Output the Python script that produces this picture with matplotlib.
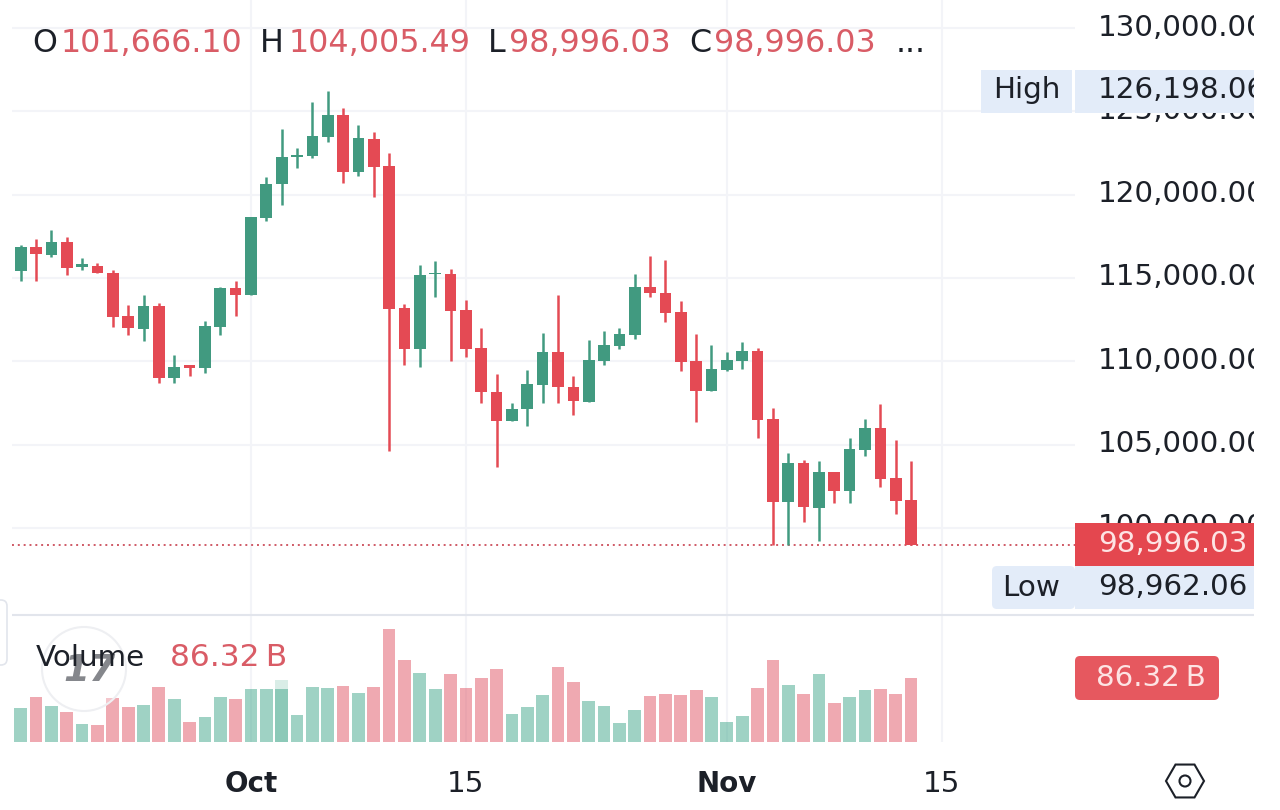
import numpy as np
import matplotlib
matplotlib.use("Agg")
import matplotlib.pyplot as plt
from matplotlib.patches import Rectangle, FancyBboxPatch, Circle, RegularPolygon
from matplotlib.transforms import Bbox, TransformedBbox, ScaledTranslation

plt.rcParams["font.family"] = ["DejaVu Sans"]

# Daily candles, one entry per session starting mid-September
opens = [115400, 116860, 116380, 117140, 115680, 115740, 115320, 112740, 111920, 113300,
         109000, 109760, 109620, 112060, 114420, 114000, 118620, 120620, 122260, 122340,
         123460, 124780, 121380, 123320, 121720, 113220, 110740, 115220, 115240, 113080,
         110780, 108140, 106420, 107120, 108580, 110580, 108480, 107580, 110040, 110940,
         111580, 114480, 114120, 112940, 110020, 108240, 109480, 110040, 110640, 106520,
         101540, 103880, 101220, 103340, 102240, 104680, 105980, 102980, 101666.10]
highs = [116980, 117340, 117880, 117480, 116220, 115880, 115460, 113360, 113980, 113500,
         110380, 109760, 112400, 114480, 114820, 118660, 121080, 123940, 122820, 125560,
         126198.06, 125200, 124160, 123740, 122480, 113420, 115800, 116000, 115520, 113660,
         111980, 109240, 107520, 109460, 111680, 113980, 109120, 111280, 111840, 111980,
         115240, 116300, 116080, 113640, 111620, 110980, 110560, 111140, 110780, 107220,
         104520, 104080, 104040, 103340, 105420, 106520, 107440, 105280, 104005.49]
lows = [114840, 114840, 116240, 115200, 115460, 115280, 112060, 111560, 111220, 108720,
        108720, 109140, 109280, 111560, 112740, 114000, 118400, 119360, 121580, 122200,
        123180, 120680, 121100, 119860, 104620, 109760, 109680, 113880, 110040, 110240,
        107520, 103640, 106420, 106140, 107480, 107520, 106780, 107540, 109760, 110740,
        111320, 113880, 112340, 109440, 106340, 108240, 109440, 109560, 105380, 98962.06,
        98980, 100380, 99240, 101480, 101480, 104340, 102440, 100860, 98996.03]
closes = [116860, 116460, 117140, 115620, 115820, 115280, 112680, 111980, 113300, 109000,
          109680, 109620, 112120, 114420, 114000, 118660, 120660, 122280, 122400, 123520,
          124780, 121380, 123400, 121660, 113160, 110740, 115180, 115300, 113020, 110740,
          108160, 106420, 107160, 108620, 110580, 108460, 107600, 110080, 110980, 111620,
          114480, 114080, 112920, 109980, 108240, 109520, 110080, 110640, 106480, 101540,
          103880, 101280, 103340, 102240, 104720, 105980, 102940, 101640, 98996.03]
volumes = [46.3, 60.1, 49.0, 40.1, 24.0, 22.7, 58.7, 47.6, 49.4, 74.3,
           58.3, 27.6, 33.4, 60.1, 58.3, 70.8, 70.8, 70.8, 36.5, 73.4,
           72.5, 75.2, 66.3, 73.4, 151.3, 109.5, 92.1, 70.8, 91.2, 72.5,
           86.3, 98.3, 38.3, 47.6, 63.2, 100.1, 80.1, 55.2, 49.0, 25.8,
           43.2, 61.4, 64.5, 63.2, 69.4, 60.1, 27.1, 35.2, 72.5, 109.5,
           77.0, 64.5, 91.2, 52.1, 60.1, 69.4, 70.8, 64.5, 86.32]
# Session whose volume bar carries a paler cap
pale_cap_session = 17
pale_cap_volume = 83.2

price_ticks = [100000, 105000, 110000, 115000, 120000, 125000, 130000]
date_ticks = [15, 29, 46, 60]
date_labels = ["Oct", "15", "Nov", "15"]
bold_dates = {"Oct", "Nov"}

GREEN = "#419a80"
RED = "#e44a54"
GREEN_VOL = "#41a78b"
RED_VOL = "#e15565"
GRID = "#f3f4f8"
SEPARATOR = "#e2e5ec"
TEXT = "#1c2028"
HEADER_RED = "#d95c66"
TAG_BLUE = "#e3ecf9"
LABEL_SIZE = 21.2

W, H = 1280, 810
fig = plt.figure(figsize=(W / 100, H / 100), dpi=100, facecolor="white")


def px_axes(x0, y0, x1, y1, **kw):
    return fig.add_axes([x0 / W, 1 - y1 / H, (x1 - x0) / W, (y1 - y0) / H], **kw)


x = np.arange(len(opens))
o, h, l, c = map(np.array, (opens, highs, lows, closes))
up = c >= o
candle_colors = np.where(up, GREEN, RED)
xlim = (-0.567, 68.68)

# Price pane
ax = px_axes(12, 0, 1075, 615)
ax.set_xlim(*xlim)
ax.set_ylim(94780, 131680)
for s in ax.spines.values():
    s.set_visible(False)
ax.set_axisbelow(True)
ax.grid(True, color=GRID, lw=1.5)
ax.set_xticks(date_ticks)
ax.tick_params(axis="x", length=0, labelbottom=False)
ax.yaxis.tick_right()
ax.set_yticks(price_ticks)
ax.set_yticklabels([f"{v:,.2f}" for v in price_ticks])
ax.tick_params(axis="y", length=0, pad=16.5, labelsize=LABEL_SIZE, labelcolor=TEXT)
right_clip = TransformedBbox(Bbox([[0, 0], [12.54, 8.1]]), fig.dpi_scale_trans)
# Price labels sit slightly above their gridlines and are cut off at the pane edge
label_lift = ScaledTranslation(0, 3.5 / 100, fig.dpi_scale_trans)
for lbl in ax.get_yticklabels():
    lbl.set_transform(lbl.get_transform() + label_lift)
    lbl.set_clip_box(right_clip)
    lbl.set_clip_on(True)

ax.axhline(closes[-1], color="#cf5a66", lw=1.4, ls=(0, (1, 2)), zorder=1.5)
ax.vlines(x, l, h, colors=candle_colors, lw=1.8, zorder=2)
ax.bar(x, np.maximum(np.abs(c - o), 60), bottom=np.minimum(o, c), width=0.76,
       color=candle_colors, linewidth=0, zorder=3)

# Volume pane
vax = px_axes(12, 615, 1075, 742.3)
vax.set_xlim(*xlim)
vax.set_ylim(0, 169.8)
for s in vax.spines.values():
    s.set_visible(False)
vax.set_axisbelow(True)
vax.grid(True, axis="x", color=GRID, lw=1.5)
vax.set_yticks([])
vax.set_xticks(date_ticks)
vax.set_xticklabels(date_labels)
vax.tick_params(axis="x", length=0, pad=20, labelsize=LABEL_SIZE, labelcolor=TEXT)
for lbl in vax.get_xticklabels():
    if lbl.get_text() in bold_dates:
        lbl.set_fontweight("bold")
        lbl.set_fontsize(20)
vax.bar(x, volumes, width=0.83, linewidth=0, alpha=0.5,
        color=np.where(up, GREEN_VOL, RED_VOL), zorder=2)
vax.bar(pale_cap_session, pale_cap_volume, width=0.83, linewidth=0,
        color=GREEN_VOL, alpha=0.2, zorder=1.5)

# Overlay in pixel units for price tags, legends and the corner icons
ov = fig.add_axes([0, 0, 1, 1], zorder=5)
ov.set_xlim(0, W)
ov.set_ylim(H, 0)
ov.axis("off")
ov.patch.set_alpha(0)

ov.plot([12, 1254], [615, 615], color=SEPARATOR, lw=1.5, solid_capstyle="butt")


def text(px, py, s, color=TEXT, size=LABEL_SIZE, ha="left", **kw):
    return ov.text(px, py, s, color=color, fontsize=size, ha=ha, va="center", **kw)


def money(v):
    return f"{v:,.2f}"


# OHLC legend
for px, s, col in [(32, "O", TEXT), (61, money(opens[-1]), HEADER_RED),
                   (260, "H", TEXT), (289, money(highs[-1]), HEADER_RED),
                   (488, "L", TEXT), (509, money(lows[-1]), HEADER_RED),
                   (689, "C", TEXT), (714, money(closes[-1]), HEADER_RED),
                   (896, "...", TEXT)]:
    text(px, 43, s, col, size=22.9)

# High tag
ov.add_patch(Rectangle((981, 70), 91, 43, color=TAG_BLUE, lw=0))
ov.add_patch(Rectangle((1075, 70), 179, 43, color=TAG_BLUE, lw=0))
text(1027, 90, "High", ha="center")
t = text(1098, 90, money(max(highs)))
t.set_clip_box(right_clip)
t.set_clip_on(True)

# Last price tag
ov.add_patch(Rectangle((1075, 523), 179, 43, color="#e4474f", lw=0))
text(1248, 544, money(closes[-1]), "#fde4e4", ha="right")

# Low tag
ov.add_patch(FancyBboxPatch((995, 569), 77, 37, boxstyle="round,pad=3,rounding_size=5",
                            color=TAG_BLUE, lw=0))
ov.add_patch(Rectangle((1075, 566), 179, 43, color=TAG_BLUE, lw=0))
text(1031, 588, "Low", ha="center")
text(1248, 587, money(min(lows)), ha="right")

# Volume logo, legend and tag
ov.add_patch(Circle((84, 669), 42, facecolor=(1, 1, 1, 0.35), edgecolor="#eeeff2", lw=1.5))
ov.text(90, 671, "17", color="#85878c", fontsize=27, fontweight="bold", fontstyle="oblique",
        ha="center", va="center")
text(36, 658, "Volume")
text(170, 658, f"{volumes[-1]:.2f}\u2009B", HEADER_RED, size=22.5)
ov.add_patch(FancyBboxPatch((1078, 659), 138, 38, boxstyle="round,pad=3,rounding_size=5",
                            color="#e6585f", lw=0))
text(1151, 678, f"{volumes[-1]:.2f}\u2009B", "#fde4e4", ha="center")

# Collapsed side-panel handle
ov.add_patch(FancyBboxPatch((-14, 600), 21, 65, boxstyle="round,pad=0,rounding_size=6",
                            facecolor="white", edgecolor=SEPARATOR, lw=1.2))

# Settings icon
ov.add_patch(RegularPolygon((1185, 781), 6, radius=19, orientation=np.pi / 6,
                            facecolor="none", edgecolor=TEXT, lw=1.5))
ov.add_patch(Circle((1185, 781), 5.5, facecolor="none", edgecolor=TEXT, lw=1.5))

fig.savefig("out.png", dpi=100)
